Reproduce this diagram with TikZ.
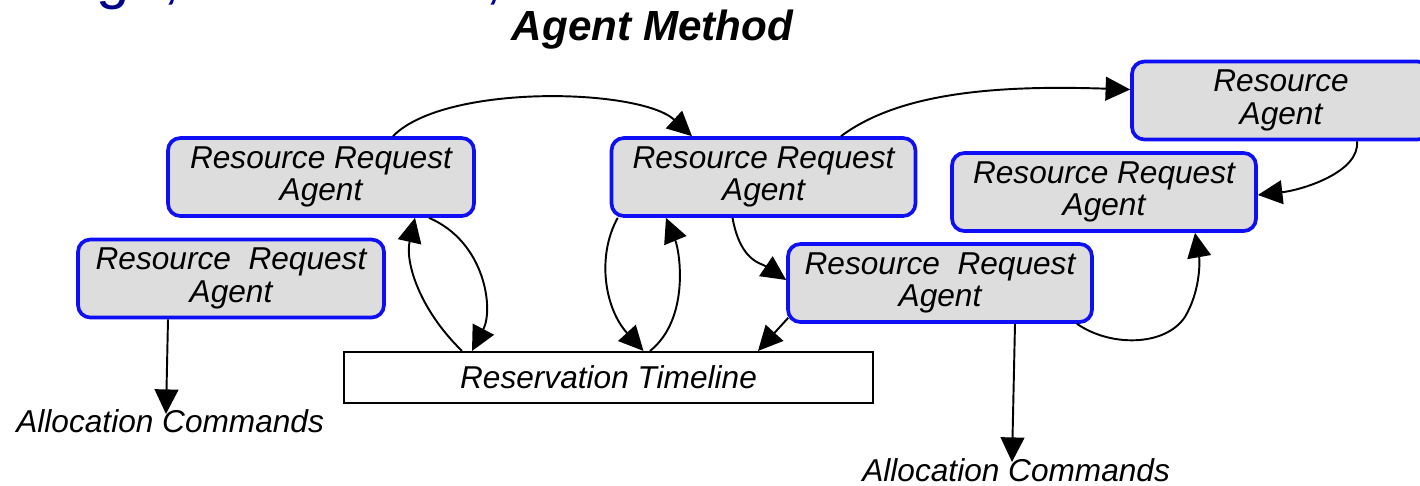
\documentclass[tikz,border=0pt]{standalone}
\usepackage{fontspec}
\setmainfont{Liberation Sans}
\usetikzlibrary{arrows.meta,calc}
\definecolor{boxblue}{RGB}{15,15,245}
\definecolor{boxgray}{RGB}{221,221,221}
\definecolor{topblue}{RGB}{0,0,140}
\begin{document}
\begin{tikzpicture}[x=0.02cm,y=-0.02cm,
  agent/.style={draw=boxblue, fill=boxgray, line width=2.1pt, rounded corners=7pt,
    minimum height=1.56cm, align=center, inner sep=0pt,
    font=\fontsize{18}{18.5}\selectfont\itshape,
    execute at begin node={\rule{0pt}{17.6pt}}},
  conn/.style={line width=1.1pt, -{Triangle[width=13.5pt,length=14pt]}},
  lbl/.style={font=\fontsize{18}{20}\selectfont\itshape}]
\useasboundingbox (0,0) rectangle (1420,485);

% clipped header line
\node[font=\fontsize{34}{40}\selectfont, text=topblue, anchor=base west, inner sep=0pt] (hdr) at (-23,-3) {Design, Allocations, and};
\node[font=\fontsize{24}{28}\selectfont\bfseries\itshape, anchor=base, inner sep=0pt] (title) at (652.5,40) {Agent Method};

% agents
\node[agent, minimum width=6.12cm] (A) at (321,177) {Resource Request\\Agent};
\node[agent, minimum width=6.12cm] (B) at (231,278.5) {Resource\ \ Request\\Agent};
\node[agent, minimum width=6.08cm] (C) at (763.5,177) {Resource Request\\Agent};
\node[agent, minimum width=5.96cm] (D) at (1281,100.5) {Resource\\Agent};
\node[agent, minimum width=6.08cm] (E) at (1104,192) {Resource Request\\Agent};
\node[agent, minimum width=6.08cm] (F) at (940,283) {Resource\ \ Request\\Agent};

% timeline
\node[draw, line width=1.2pt, minimum width=10.58cm, minimum height=1.02cm, inner sep=0pt, lbl] (T) at (608.5,377.5) {Reservation Timeline};

% labels
\node[lbl, anchor=base west, inner sep=0pt] (cmdL) at (16,432) {Allocation Commands};
\node[lbl, anchor=base west, inner sep=0pt] (cmdR) at (862,481) {Allocation Commands};
\coordinate (ac1) at (166,414);
\coordinate (ac2) at (1012,462);

% connectors
\draw[conn] ($(B.south)+(-63,0)$) -- (ac1);
\draw[conn] ($(F.south)+(75,0)$) -- (ac2);
\draw[conn] ($(A.north)+(72,0)$) .. controls +(52,-53) and +(-52,-48) .. ($(C.north)+(-71.5,0)$);
\draw[conn] ($(C.north)+(77.5,0)$) .. controls +(59,-44) and +(-132,-4.5) .. ($(D.west)+(0,-11)$);
\draw[conn] ($(D.south)+(76,0)$) .. controls +(3,31) and +(44,-5) .. ($(E.east)+(0,3)$);
\draw[conn] ($(F.south)+(137,0)$) .. controls +(33,23) and +(-20,30) .. ++(108,-7)
            .. controls +(15,-25) and +(5,29) .. ($(E.south)+(91,0)$);
\draw[conn] ($(C.south)+(-31,0)$) .. controls +(8,44) and +(-25,-17) .. ($(F.west)+(0,-3)$);
\draw[conn] ($(F.south west)+(2,-6)$) -- ($(T.north east)+(-116,0)$);
\draw[conn] ($(C.south west)+(8,0)$) .. controls +(-21.5,39) and +(-38.5,-42) .. ($(T.north)+(35,0)$);
\draw[conn] ($(T.north)+(41.5,0)$) .. controls +(40,-32) and +(14,34) .. ($(C.south)+(-97.5,0)$);
\draw[conn] ($(T.north west)+(119,0)$) .. controls +(-43,-42) and +(-10,44) .. ($(A.south)+(94,0)$);
\draw[conn] ($(A.south)+(108,0)$) .. controls +(56,24) and +(22,-42) .. ($(T.north west)+(129,0)$);
\end{tikzpicture}
\end{document}
